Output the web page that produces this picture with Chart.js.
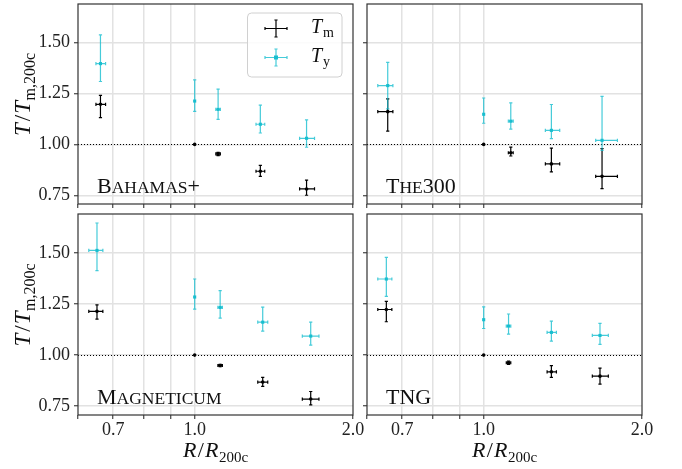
<!DOCTYPE html>
<html>
<head>
<meta charset="utf-8">
<script src="https://cdn.jsdelivr.net/npm/chart.js@4.4.0/dist/chart.umd.min.js"></script>
<style>
  html, body { margin: 0; padding: 0; background: #fff; }
  #wrap { position: relative; width: 682px; height: 469px; }
  #wrap canvas { position: absolute; left: 0; top: 0; }
</style>
</head>
<body>
<div id="wrap">
  <canvas id="c0" width="682" height="469"></canvas>
  <canvas id="c1" width="682" height="469"></canvas>
  <canvas id="c2" width="682" height="469"></canvas>
  <canvas id="c3" width="682" height="469"></canvas>
</div>
<script>
// ---- datos ----
const xTickVals = [0.6, 0.7, 0.8, 0.9, 1.0, 2.0];
const xTickLabels = { 0.7: '0.7', 1: '1.0', 2: '2.0' };
const yTickVals = [0.75, 1.0, 1.25, 1.5];

// Bahamas+
const bahR    = [0.662, 1.0, 1.108, 1.333, 1.632];
const bahRlo  = [0.649, 1.0, 1.097, 1.308, 1.583];
const bahRhi  = [0.677, 1.0, 1.119, 1.359, 1.690];
const bahTm   = [1.197, 1.0, 0.953, 0.868, 0.781];
const bahTmLo = [1.132, 1.0, 0.945, 0.843, 0.750];
const bahTmHi = [1.241, 1.0, 0.961, 0.897, 0.824];
const bahTy   = [1.397, 1.213, 1.172, 1.099, 1.030];
const bahTyLo = [1.309, 1.162, 1.123, 1.056, 0.986];
const bahTyHi = [1.538, 1.317, 1.272, 1.193, 1.120];

// The300
const theR    = [0.657, 1.0, 1.126, 1.345, 1.679];
const theRlo  = [0.629, 1.0, 1.114, 1.310, 1.633];
const theRhi  = [0.672, 1.0, 1.138, 1.395, 1.796];
const theTm   = [1.161, 1.0, 0.959, 0.904, 0.843];
const theTmLo = [1.065, 1.0, 0.943, 0.865, 0.783];
const theTmHi = [1.224, 1.0, 0.987, 0.982, 0.979];
const theTy   = [1.289, 1.148, 1.114, 1.069, 1.020];
const theTyLo = [1.175, 1.104, 1.075, 1.028, 0.970];
const theTyHi = [1.403, 1.228, 1.204, 1.196, 1.236];

// Magneticum
const magR    = [0.652, 1.0, 1.118, 1.347, 1.662];
const magRlo  = [0.629, 1.0, 1.107, 1.318, 1.602];
const magRhi  = [0.669, 1.0, 1.129, 1.377, 1.723];
const magTm   = [1.214, 1.0, 0.949, 0.868, 0.785];
const magTmLo = [1.176, 1.0, 0.943, 0.847, 0.757];
const magTmHi = [1.246, 1.0, 0.955, 0.891, 0.822];
const magTy   = [1.512, 1.284, 1.233, 1.161, 1.093];
const magTyLo = [1.413, 1.225, 1.181, 1.117, 1.049];
const magTyHi = [1.646, 1.372, 1.315, 1.235, 1.161];

// TNG
const tngR    = [0.653, 1.0, 1.115, 1.345, 1.664];
const tngRlo  = [0.629, 1.0, 1.104, 1.320, 1.609];
const tngRhi  = [0.669, 1.0, 1.126, 1.375, 1.726];
const tngTm   = [1.223, 1.0, 0.9625, 0.918, 0.897];
const tngTmLo = [1.163, 1.0, 0.955, 0.891, 0.858];
const tngTmHi = [1.263, 1.0, 0.970, 0.948, 0.936];
const tngTy   = [1.372, 1.173, 1.142, 1.111, 1.096];
const tngTyLo = [1.287, 1.130, 1.103, 1.068, 1.052];
const tngTyHi = [1.478, 1.236, 1.201, 1.166, 1.155];

const SERIF = '"Liberation Serif", "DejaVu Serif", serif';
const CYAN = '#17becf';
const CYAN_BAR = 'rgba(23,190,207,0.8)';
const GRID = '#e2e2e2';
const FRAME = '#333';

function pts(r, rlo, rhi, t, tlo, thi) { // junto los arrays en puntos con sus errores
  return r.map((v, i) => ({ x: v, y: t[i], xMin: rlo[i], xMax: rhi[i], yMin: tlo[i], yMax: thi[i] }));
}

// texto con trozos de distinta fuente (cursiva, subindices)
function runsWidth(ctx, runs) {
  let w = 0;
  runs.forEach(r => { ctx.font = (r[2] ? 'italic ' : '') + r[1] + 'px ' + SERIF; w += ctx.measureText(r[0]).width + (r[4] || 0); });
  return w;
}
function drawRuns(ctx, runs, x, y, center) {
  let cx = center ? x - runsWidth(ctx, runs) / 2 : x;
  ctx.textBaseline = 'alphabetic';
  ctx.textAlign = 'left';
  runs.forEach(r => {
    ctx.font = (r[2] ? 'italic ' : '') + r[1] + 'px ' + SERIF;
    ctx.fillText(r[0], cx, y + (r[3] || 0));
    cx += ctx.measureText(r[0]).width + (r[4] || 0);
  });
}
function smallCaps(ctx, text, x, y) { // versalitas: mayusculas grandes, minusculas en pequeno
  const runs = [];
  for (const ch of text) {
    if (ch >= 'a' && ch <= 'z') runs.push([ch.toUpperCase(), 17.5, false]);
    else runs.push([ch, 22, false]);
  }
  drawRuns(ctx, runs, x, y, false);
}

function crossBar(ctx, x0, x1, y0, y1, px, py, cap) {
  ctx.beginPath();
  if (x1 - x0 > 0.5) {
    ctx.moveTo(x0, py); ctx.lineTo(x1, py);
    ctx.moveTo(x0, py - cap); ctx.lineTo(x0, py + cap);
    ctx.moveTo(x1, py - cap); ctx.lineTo(x1, py + cap);
  }
  if (y0 - y1 > 0.5) {
    ctx.moveTo(px, y0); ctx.lineTo(px, y1);
    ctx.moveTo(px - cap, y0); ctx.lineTo(px + cap, y0);
    ctx.moveTo(px - cap, y1); ctx.lineTo(px + cap, y1);
  }
  ctx.stroke();
}

const errorBars = {
  id: 'errorBars',
  beforeDatasetsDraw(chart) { // linea punteada en T = 1
    const { ctx, chartArea: a, scales: { y } } = chart;
    const y1 = Math.round(y.getPixelForValue(1)) + 0.5;
    ctx.save();
    ctx.strokeStyle = '#000';
    ctx.lineWidth = 1;
    ctx.setLineDash([1, 2]);
    ctx.beginPath(); ctx.moveTo(a.left, y1); ctx.lineTo(a.right, y1); ctx.stroke();
    ctx.restore();
  },
  beforeDatasetDraw(chart, args) { // barras de error de cada serie
    const { ctx, scales: { x, y } } = chart;
    const ds = chart.data.datasets[args.index];
    ctx.save();
    ctx.strokeStyle = ds.barColor;
    ctx.lineWidth = 1.2;
    ds.data.forEach(p => {
      crossBar(ctx, x.getPixelForValue(p.xMin), x.getPixelForValue(p.xMax),
        y.getPixelForValue(p.yMin), y.getPixelForValue(p.yMax),
        x.getPixelForValue(p.x), y.getPixelForValue(p.y), 1.6);
    });
    ctx.restore();
  },
  afterDraw(chart) {
    const { ctx, chartArea: a } = chart;
    const o = chart.options.plugins.panel;
    ctx.save();
    // marco
    ctx.strokeStyle = FRAME;
    ctx.lineWidth = 1.2;
    ctx.strokeRect(a.left, a.top, a.width, a.height);
    ctx.fillStyle = '#111';
    smallCaps(ctx, o.name, a.left + 19, a.bottom - 11.5);
    if (o.yTitle) {
      ctx.save();
      ctx.translate(30, (a.top + a.bottom) / 2 - 9.5);
      ctx.rotate(-Math.PI / 2);
      drawRuns(ctx, [['T', 23, true, 0, 2], ['/', 23, false, 0, 1], ['T', 23, true, 0, 0.5], ['m,200c', 16, false, 4.5]], 0, 0, true);
      ctx.restore();
    }
    if (o.xTitle) {
      drawRuns(ctx, [['R', 22, true, 0, 1.5], ['/', 22, false, 0, 1], ['R', 22, true, 0, 0.5], ['200c', 15, false, 4.5]], (a.left + a.right) / 2, a.bottom + 42, true);
    }
    if (o.legend) {
      const bx = 247.5, by = 13, bw = 94.5, bh = 64;
      ctx.fillStyle = 'rgba(255,255,255,0.85)';
      ctx.strokeStyle = '#d0d0d0';
      ctx.lineWidth = 1;
      ctx.beginPath(); ctx.roundRect(bx, by, bw, bh, 4); ctx.fill(); ctx.stroke();
      ctx.lineWidth = 1.2;
      ctx.strokeStyle = '#000';
      crossBar(ctx, 265, 287, 37, 20, 276, 28.5, 1.6);
      ctx.strokeStyle = CYAN_BAR;
      crossBar(ctx, 265, 287, 66, 49, 276, 57.5, 1.6);
      ctx.fillStyle = CYAN;
      ctx.fillRect(274, 55.5, 4, 4);
      ctx.fillStyle = '#111';
      drawRuns(ctx, [['T', 20, true, 0, 1], ['m', 14, false, 4]], 311, 32.5, false);
      drawRuns(ctx, [['T', 20, true, 0, 1], ['y', 14, false, 4]], 311, 61.5, false);
    }
    ctx.restore();
  }
};

const panels = [
  { id: 'c0', name: 'Bahamas+', L: 78, T: 3, R: 353, B: 204, yLab: true, xLab: false, legend: true,
    tm: pts(bahR, bahRlo, bahRhi, bahTm, bahTmLo, bahTmHi), ty: pts(bahR, bahRlo, bahRhi, bahTy, bahTyLo, bahTyHi) },
  { id: 'c1', name: 'The300', L: 367, T: 3, R: 642, B: 204, yLab: false, xLab: false, legend: false,
    tm: pts(theR, theRlo, theRhi, theTm, theTmLo, theTmHi), ty: pts(theR, theRlo, theRhi, theTy, theTyLo, theTyHi) },
  { id: 'c2', name: 'Magneticum', L: 78, T: 214, R: 353, B: 415, yLab: true, xLab: true, legend: false,
    tm: pts(magR, magRlo, magRhi, magTm, magTmLo, magTmHi), ty: pts(magR, magRlo, magRhi, magTy, magTyLo, magTyHi) },
  { id: 'c3', name: 'TNG', L: 367, T: 214, R: 642, B: 415, yLab: false, xLab: true, legend: false,
    tm: pts(tngR, tngRlo, tngRhi, tngTm, tngTmLo, tngTmHi), ty: pts(tngR, tngRlo, tngRhi, tngTy, tngTyLo, tngTyHi) }
];

const XH = 30; // alto fijo del eje x

panels.forEach(p => {
  const yW = p.yLab ? p.L : 20; // ancho del eje y (las etiquetas se recortan a este ancho)
  new Chart(document.getElementById(p.id), {
    type: 'scatter',
    data: {
      datasets: [
        { label: 'T_m', data: p.tm, order: 1, barColor: '#000', pointStyle: 'circle', pointRadius: 1.8,
          backgroundColor: '#000', borderWidth: 0 },
        { label: 'T_y', data: p.ty, order: 0, barColor: CYAN_BAR, pointStyle: 'rect', pointRadius: 2.2,
          backgroundColor: CYAN, borderColor: CYAN, borderWidth: 0 }
      ]
    },
    options: {
      responsive: false,
      animation: false,
      events: [],
      layout: { padding: { left: p.L - yW, top: p.T, right: 682 - p.R, bottom: 469 - p.B - XH } },
      plugins: {
        legend: { display: false },
        tooltip: { enabled: false },
        panel: { name: p.name, yTitle: p.yLab, xTitle: p.xLab, legend: p.legend }
      },
      scales: {
        x: {
          type: 'logarithmic', min: 0.6, max: 2.0,
          afterBuildTicks: s => { s.ticks = xTickVals.map(v => ({ value: v })); },
          afterFit: s => { s.height = XH; s.paddingLeft = 0; s.paddingRight = 0; s.paddingTop = 0; s.paddingBottom = 0; },
          ticks: {
            autoSkip: false, maxRotation: 0, padding: 0, color: '#222',
            font: { family: SERIF, size: 18 },
            callback: v => p.xLab ? (xTickLabels[v] || '') : ''
          },
          grid: {
            color: c => (c.tick && (c.tick.value === 0.6 || c.tick.value === 2)) ? 'rgba(0,0,0,0)' : GRID,
            lineWidth: 1.5, tickColor: FRAME, tickLength: 4, tickWidth: 1.1
          },
          border: { display: false }
        },
        y: {
          type: 'linear', min: 0.707, max: 1.69,
          afterBuildTicks: s => { s.ticks = yTickVals.map(v => ({ value: v })); },
          afterFit: s => { s.width = yW; s.paddingLeft = 0; s.paddingRight = 0; s.paddingTop = 0; s.paddingBottom = 0; },
          ticks: {
            padding: 4, color: '#222',
            font: { family: SERIF, size: 18 },
            callback: v => p.yLab ? v.toFixed(2) : ''
          },
          grid: { color: GRID, lineWidth: 1.5, tickColor: FRAME, tickLength: 4, tickWidth: 1.1 },
          border: { display: false }
        }
      }
    },
    plugins: [errorBars]
  });
});
</script>
</body>
</html>
